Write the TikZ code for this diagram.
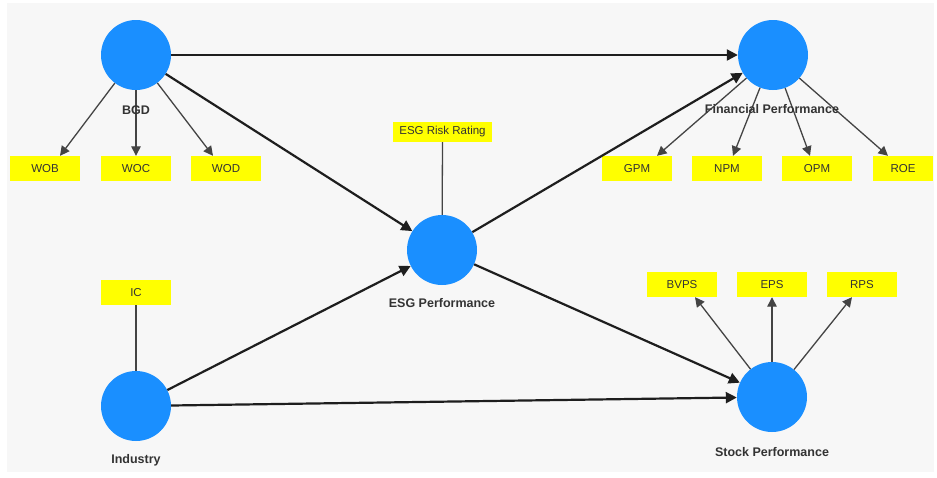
\documentclass[tikz,border=0pt]{standalone}
\usepackage{fontspec}
\setmainfont{Liberation Sans}
\usetikzlibrary{arrows.meta,calc}
\definecolor{panel}{HTML}{F7F7F7}
\definecolor{lvblue}{HTML}{1A8FFF}
\definecolor{boxyel}{HTML}{FFFF00}
\definecolor{linec}{HTML}{1E1E1E}
\definecolor{thinc}{HTML}{444444}
\definecolor{txtc}{HTML}{333333}
\tikzset{
  latent/.style={circle,fill=lvblue,draw=none,minimum size=70pt,inner sep=0pt},
  indic/.style={rectangle,fill=boxyel,draw=none,minimum width=70pt,minimum height=25pt,inner sep=0pt,
    font=\fontsize{11.5pt}{12pt}\selectfont,text=txtc},
  lvlabel/.style={font=\fontsize{12.5pt}{13pt}\selectfont\bfseries,text=txtc,inner sep=0pt},
  path/.style={draw=linec,line width=2.2pt,-{Triangle[length=11pt,width=11pt]}},
  load/.style={draw=thinc,line width=1.3pt,-{Triangle[length=9.5pt,width=9.5pt]}},
  plain/.style={draw=thinc,line width=1.3pt},
}
\begin{document}
\begin{tikzpicture}[x=1pt,y=-1pt]
\useasboundingbox (0,0) rectangle (937,477);
\fill[white] (0,0) rectangle (937,477);
\fill[panel] (7,3) rectangle (934,472);

% latent variables
\node[latent] (bgd) at (136,55) {};
\node[latent] (fin) at (773,55) {};
\node[latent] (esg) at (442,250) {};
\node[latent] (stk) at (772,397) {};
\node[latent] (ind) at (136,406) {};

% indicators
\node[indic] (wob) at (45,168.5) {WOB};
\node[indic] (woc) at (136,168.5) {WOC};
\node[indic] (wod) at (226,168.5) {WOD};
\node[indic] (gpm) at (637,168.5) {GPM};
\node[indic] (npm) at (727,168.5) {NPM};
\node[indic] (opm) at (817,168.5) {OPM};
\node[indic,minimum width=60pt] (roe) at (903,168.5) {ROE};
\node[indic,minimum width=99pt,minimum height=20pt] (rr) at (442.5,132) {ESG Risk Rating};
\node[indic] (bvps) at (682,284.5) {BVPS};
\node[indic] (eps) at (772,284.5) {EPS};
\node[indic] (rps) at (862,284.5) {RPS};
\node[indic] (ic) at (136,292.5) {IC};

% structural paths
\draw[path] (bgd) -- (fin);
\draw[path] (bgd) -- (esg);
\draw[path] (esg) -- (fin);
\draw[path] (esg) -- (stk);
\draw[path] (ind) -- (esg);
\draw[path] (ind) -- (stk);

% loadings
\draw[load] (bgd) -- ($(wob.north)+(15,0)$);
\draw[load] (bgd) -- (woc.north);
\draw[load] (bgd) -- ($(wod.north)+(-13,0)$);
\draw[load] (fin) -- ($(gpm.north)+(20,0)$);
\draw[load] (fin) -- ($(npm.north)+(6,0)$);
\draw[load] (fin) -- ($(opm.north)+(-7,0)$);
\draw[load] (fin) -- ($(roe.north)+(-15,0)$);
\draw[load] (stk) -- ($(bvps.south)+(13,0)$);
\draw[load] (stk) -- (eps.south);
\draw[load] (stk) -- ($(rps.south)+(-10,0)$);
\draw[plain] (rr.south) -- (esg);
\draw[plain] (ic.south) -- (ind);

% labels
\node[lvlabel] (lbgd) at (136,110) {BGD};
\node[lvlabel] (lfin) at (772,109) {Financial Performance};
\node[lvlabel] (lesg) at (442,303) {ESG Performance};
\node[lvlabel] (lstk) at (772,452) {Stock Performance};
\node[lvlabel] (lind) at (136,460) {Industry};
\end{tikzpicture}
\end{document}
